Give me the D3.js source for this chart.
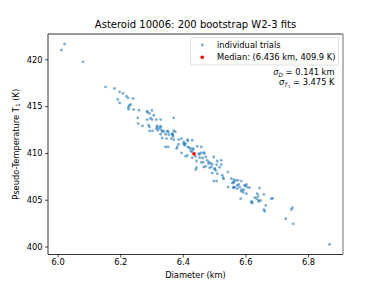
<!DOCTYPE html>
<html>
<head>
<meta charset="utf-8">
<script src="https://cdn.jsdelivr.net/npm/d3@7"></script>
<style>
  body { margin: 0; background: #fff; }
  text { font-family: "DejaVu Sans", sans-serif; fill: #000; }
</style>
</head>
<body>
<div id="chart"></div>
<script>
const width = 381,
  height = 286,
  margin = { left: 48, right: 38, top: 34, bottom: 31.5 };

// bootstrap trials, diameter (km)
const diameters = [
  6.022, 6.012, 6.081, 6.153, 6.182, 6.198, 6.209, 6.220, 6.225, 6.241,
  6.192, 6.198, 6.233, 6.229, 6.227, 6.243, 6.260, 6.286, 6.301, 6.293,
  6.307, 6.256, 6.371, 6.286, 6.302, 6.315, 6.329, 6.257, 6.271, 6.291,
  6.293, 6.318, 6.329, 6.315, 6.323, 6.294, 6.303, 6.320, 6.332, 6.339,
  6.350, 6.371, 6.329, 6.345, 6.355, 6.366, 6.369, 6.334, 6.348, 6.363,
  6.371, 6.387, 6.345, 6.353, 6.382, 6.380,
  6.396, 6.416, 6.430, 6.403, 6.406, 6.416, 6.421, 6.433, 6.446, 6.459,
  6.425, 6.433, 6.396, 6.409, 6.414, 6.430, 6.441, 6.451, 6.459, 6.467,
  6.469, 6.454, 6.473, 6.499, 6.444, 6.459, 6.465, 6.478, 6.483, 6.489,
  6.494, 6.510, 6.523, 6.508, 6.523, 6.444, 6.441, 6.467, 6.473, 6.486,
  6.491, 6.502, 6.505, 6.494, 6.510, 6.526, 6.529, 6.544, 6.499, 6.508,
  6.555, 6.563, 6.569, 6.558, 6.563, 6.545, 6.563, 6.574, 6.579, 6.587,
  6.597, 6.603, 6.606, 6.588, 6.595, 6.613, 6.603, 6.585, 6.619, 6.622,
  6.638, 6.645, 6.640, 6.659, 6.643, 6.649, 6.636, 6.683, 6.665, 6.659,
  6.576, 6.561, 6.582, 6.574, 6.587, 6.630, 6.662,
  6.750, 6.747, 6.729, 6.753, 6.869,
  6.318, 6.329, 6.366, 6.368, 6.403, 6.409, 6.425, 6.430, 6.405, 6.415,
  6.453, 6.482, 6.501, 6.562, 6.566, 6.600, 6.620, 6.642, 6.687, 6.226,
  6.287, 6.297, 6.354, 6.335, 6.376, 6.386, 6.463, 6.517, 6.530, 6.593
];

// bootstrap trials, pseudo-temperature T1 (K)
const temps = [
  421.64, 421.00, 419.74, 417.06, 416.89, 416.53, 416.36, 416.07, 415.89, 415.82,
  415.72, 415.35, 415.18, 415.07, 414.68, 414.64, 414.57, 414.46, 414.54, 414.22,
  414.03, 413.74, 413.74, 413.57, 413.57, 413.57, 413.57, 413.14, 412.89, 412.96,
  412.78, 412.89, 412.86, 412.61, 412.61, 412.35, 412.35, 412.43, 412.43, 412.32,
  412.32, 412.35, 412.00, 412.00, 411.97, 412.00, 411.78, 411.60, 411.54, 411.54,
  411.43, 411.43, 410.64, 410.64, 410.64, 410.47,
  411.54, 411.28, 411.36, 411.00, 410.82, 410.64, 410.57, 410.47, 410.71, 410.64,
  410.21, 410.36, 410.00, 409.64, 409.75, 409.50, 409.64, 409.93, 410.00, 410.04,
  409.93, 409.50, 409.57, 409.57, 409.14, 408.97, 409.03, 409.21, 409.03, 408.92,
  408.78, 409.14, 409.21, 408.75, 408.75, 408.43, 408.22, 408.50, 408.57, 408.43,
  408.50, 408.32, 408.14, 407.85, 407.79, 407.61, 407.36, 407.96, 407.00, 407.00,
  407.25, 407.15, 407.07, 406.78, 406.89, 406.35, 406.35, 406.53, 406.64, 407.00,
  406.53, 406.64, 406.35, 406.07, 406.07, 406.29, 405.65, 405.11, 404.82, 404.64,
  405.65, 406.25, 405.36, 405.57, 404.82, 404.93, 405.11, 405.11, 404.39, 403.93,
  407.07, 406.29, 406.35, 406.18, 405.92, 405.22, 403.78,
  404.15, 403.96, 402.97, 402.43, 400.22,
  412.78, 412.72, 412.07, 411.92, 411.18, 411.00, 410.47, 410.10, 410.93, 411.41,
  409.86, 408.85, 408.30, 406.85, 406.32, 406.47, 404.72, 404.93, 405.14, 414.89,
  414.35, 413.71, 412.27, 412.27, 412.27, 410.93, 409.46, 408.46, 407.23, 405.79
];

const median = [6.436, 409.9];
const sigmaD = 0.141, sigmaT = 3.475;

const xTicks = [6.0, 6.2, 6.4, 6.6, 6.8];
const yTicks = [400, 405, 410, 415, 420];

const points = diameters.map((d, i) => ({ d: d, t: temps[i] }));

// matplotlib-style 5% padding on data limits
const pad = (ext) => {
  const r = ext[1] - ext[0];
  return [ext[0] - 0.05 * r, ext[1] + 0.05 * r];
};

const xScale = d3
  .scaleLinear()
  .domain(pad(d3.extent(diameters)))
  .range([margin.left, width - margin.right]);

const yScale = d3
  .scaleLinear()
  .domain(pad(d3.extent(temps)))
  .range([height - margin.bottom, margin.top]);

const svg = d3
  .select("#chart")
  .append("svg")
  .attr("width", width)
  .attr("height", height);

svg
  .append("g")
  .selectAll("circle")
  .data(points)
  .enter()
  .append("circle")
  .attr("cx", (p) => xScale(p.d))
  .attr("cy", (p) => yScale(p.t))
  .attr("r", 1.4)
  .attr("fill", "#1f77b4")
  .attr("fill-opacity", 0.6);

svg
  .append("circle")
  .attr("cx", xScale(median[0]))
  .attr("cy", yScale(median[1]))
  .attr("r", 1.8)
  .attr("fill", "red");

// axes
const xAxis = svg
  .append("g")
  .attr("transform", `translate(0,${height - margin.bottom})`)
  .call(d3.axisBottom(xScale).tickValues(xTicks).tickSize(3).tickPadding(2).tickFormat(d3.format(".1f")));

const yAxis = svg
  .append("g")
  .attr("transform", `translate(${margin.left},0)`)
  .call(d3.axisLeft(yScale).tickValues(yTicks).tickSize(3).tickPadding(2.5));

[xAxis, yAxis].forEach((a) => {
  a.select(".domain").remove();
  a.selectAll("text").attr("font-size", "8.3px").attr("font-family", "DejaVu Sans").attr("fill", "#000");
  a.selectAll("line").attr("stroke", "#000").attr("stroke-width", 0.7);
});

// frame
const x0 = margin.left, x1 = width - margin.right;
const y0 = margin.top, y1 = height - margin.bottom;
svg.append("path").attr("d", `M${x0},${y1}V${y0}H${x1}M${x0},${y1}H${x1}`)
  .attr("fill", "none").attr("stroke", "#000").attr("stroke-width", 0.8);
svg.append("line").attr("x1", x1).attr("x2", x1).attr("y1", y0).attr("y2", y1)
  .attr("stroke", "#999").attr("stroke-width", 1.4);

// title and labels
svg.append("text")
  .attr("x", (x0 + x1) / 2)
  .attr("y", 28)
  .attr("text-anchor", "middle")
  .attr("font-size", "10px")
  .text("Asteroid 10006: 200 bootstrap W2-3 fits");

svg.append("text")
  .attr("x", (x0 + x1) / 2)
  .attr("y", 277.5)
  .attr("text-anchor", "middle")
  .attr("font-size", "8.3px")
  .text("Diameter (km)");

const ylab = svg.append("text")
  .attr("transform", `translate(18.5,${(y0 + y1) / 2}) rotate(-90)`)
  .attr("text-anchor", "middle")
  .attr("font-size", "8.3px");
ylab.append("tspan").text("Pseudo-Temperature T");
ylab.append("tspan").attr("font-size", "5.8px").attr("dy", 1.8).text("1");
ylab.append("tspan").attr("dy", -1.8).text(" (K)");

// legend
const legend = svg.append("g");
legend.append("rect")
  .attr("x", 190.5).attr("y", 37.5)
  .attr("width", 148).attr("height", 27.5)
  .attr("rx", 2)
  .attr("fill", "#fff").attr("fill-opacity", 0.8)
  .attr("stroke", "#d6d6d6").attr("stroke-width", 0.8);

const legendItems = [
  { label: "individual trials", color: "#1f77b4", opacity: 0.6, r: 1.4 },
  { label: `Median: (${median[0]} km, ${median[1]} K)`, color: "red", opacity: 1, r: 1.8 }
];

legendItems.forEach((item, i) => {
  const cy = 45 + i * 12.3;
  legend.append("circle")
    .attr("cx", 202.3).attr("cy", cy).attr("r", item.r)
    .attr("fill", item.color).attr("fill-opacity", item.opacity);
  legend.append("text")
    .attr("x", 217).attr("y", cy + 3)
    .attr("font-size", "8.3px")
    .text(item.label);
});

// sigma annotation
const s1 = svg.append("text")
  .attr("x", 334.5).attr("y", 75)
  .attr("text-anchor", "end")
  .attr("font-size", "8.3px");
s1.append("tspan").attr("font-style", "italic").text("σ");
s1.append("tspan").attr("font-style", "italic").attr("font-size", "5.8px").attr("dy", 1.5).text("D");
s1.append("tspan").attr("dy", -1.5).text(` = ${sigmaD} km`);

const s2 = svg.append("text")
  .attr("x", 334.5).attr("y", 85)
  .attr("text-anchor", "end")
  .attr("font-size", "8.3px");
s2.append("tspan").attr("font-style", "italic").text("σ");
s2.append("tspan").attr("font-style", "italic").attr("font-size", "5.8px").attr("dy", 1.5).text("T");
s2.append("tspan").attr("font-size", "4px").attr("dy", 1).text("1");
s2.append("tspan").attr("dy", -2.5).text(` = ${sigmaT} K`);
</script>
</body>
</html>
